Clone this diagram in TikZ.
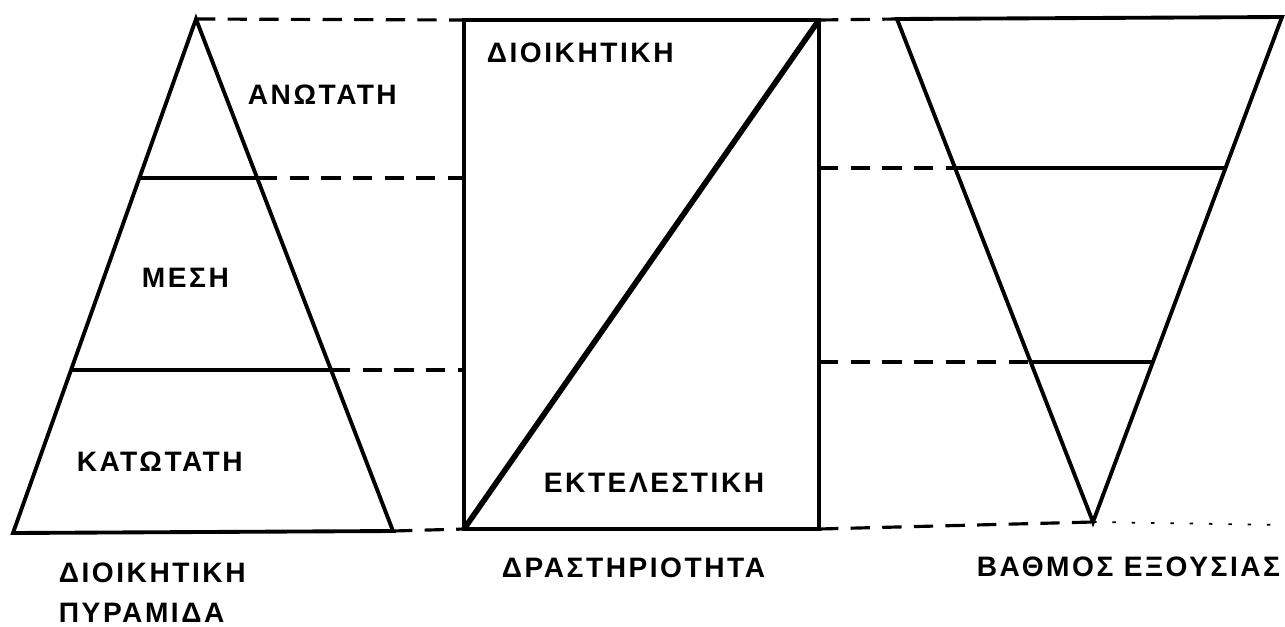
\documentclass[tikz,border=0pt]{standalone}
\usepackage{fontspec}
\setmainfont{Liberation Sans}
\newfontfamily\lettering[LetterSpace=9]{Liberation Sans}

\begin{document}
\begin{tikzpicture}[x=0.02cm,y=-0.02cm,line width=2.2pt,
    level/.style={line width=1.8pt},
    guide/.style={dashed,line width=1.8pt,dash pattern=on 11pt off 7pt},
    lbl/.style={inner sep=0pt,anchor=west,font=\lettering\bfseries\fontsize{16}{18}\selectfont}]
  \useasboundingbox (0,0) rectangle (1285,626);
  % pyramid
  \coordinate (A) at (196,19);
  \coordinate (BL) at (13,533);
  \coordinate (BR) at (393,531);
  \coordinate (L1) at (139,178);
  \coordinate (R1) at (258,178);
  \coordinate (L2) at (71,370);
  \coordinate (R2) at (331,370);
  \draw[line join=miter] (A) -- (BL) -- (BR) -- cycle;
  \draw[level] (L1) -- (R1);
  \draw[level] (L2) -- (R2);
  % activity box
  \coordinate (RT) at (464,20);
  \coordinate (RB) at (464,529);
  \coordinate (ST) at (819,20);
  \coordinate (SB) at (819,529);
  \draw (RT) rectangle (SB);
  \draw[line width=3.2pt] (RB) -- (ST);
  % authority
  \coordinate (VL) at (897,19);
  \coordinate (VR) at (1282,17);
  \coordinate (V) at (1093,522);
  \coordinate (VL1) at (955,168);
  \coordinate (VR1) at (1226,168);
  \coordinate (VL2) at (1031,362);
  \coordinate (VR2) at (1153,362);
  \draw[line join=miter] (VL) -- (VR) -- (V) -- cycle;
  \draw[level] (VL1) -- (VR1);
  \draw[level] (VL2) -- (VR2);
  % guides
  \draw[guide] (A) -- (RT);
  \draw[guide] (R1) -- (RT |- R1);
  \draw[guide] (R2) -- (RT |- R2);
  \draw[guide] (BR) -- (RB);
  \draw[guide] (ST) -- (VL);
  \draw[guide] (ST |- VL1) -- (VL1);
  \draw[guide] (ST |- VL2) -- (VL2);
  \draw[guide] (SB) -- (V);
  \draw[line width=1pt,dash pattern=on 2pt off 9pt] (V) -- (1283,525);
  % labels
  \node[lbl] (anotati) at (246,95) {ΑΝΩΤΑΤΗ};
  \node[lbl] (mesi) at (140,278) {ΜΕΣΗ};
  \node[lbl] (katotati) at (75,462) {ΚΑΤΩΤΑΤΗ};
  \node[lbl] (pyr1) at (57,573) {ΔΙΟΙΚΗΤΙΚΗ};
  \node[lbl] (pyr2) at (57,613) {ΠΥΡΑΜΙΔΑ};
  \node[lbl] (dioik) at (485,53) {ΔΙΟΙΚΗΤΙΚΗ};
  \node[lbl] (ektel) at (542,483) {ΕΚΤΕΛΕΣΤΙΚΗ};
  \node[lbl] (drast) at (500,568) {ΔΡΑΣΤΗΡΙΟΤΗΤΑ};
  \node[lbl] (vathmos) at (975,567) {ΒΑΘΜΟΣ ΕΞΟΥΣΙΑΣ};
\end{tikzpicture}
\end{document}
